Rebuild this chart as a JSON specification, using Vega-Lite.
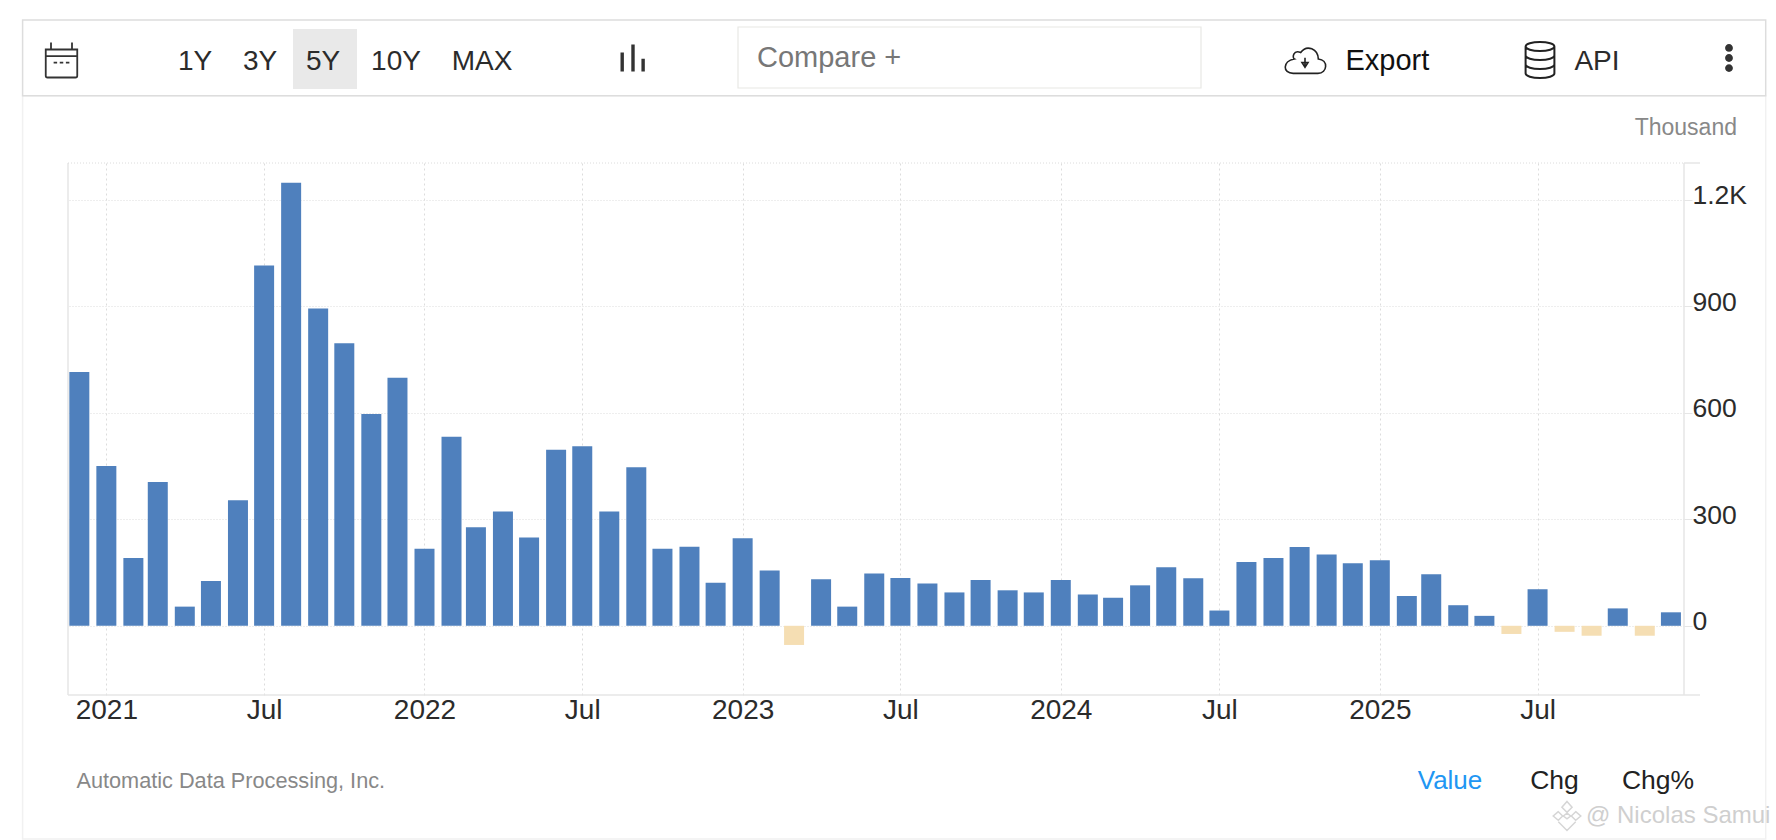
{
  "$schema": "https://vega.github.io/schema/vega-lite/v6.json",
  "width": 1616,
  "height": 532,
  "autosize": "none",
  "padding": {"left": 68, "top": 163, "right": 92, "bottom": 145},
  "background": "#ffffff",
  "config": {
    "view": {"stroke": null},
    "font": "Liberation Sans",
    "text": {"font": "Liberation Sans", "baseline": "middle"}
  },
  "layer": [
    {
      "data": {
        "values": [
          {"month": "2020-12-01", "value": 715},
          {"month": "2021-01-01", "value": 450},
          {"month": "2021-02-01", "value": 191},
          {"month": "2021-03-01", "value": 405},
          {"month": "2021-04-01", "value": 54},
          {"month": "2021-05-01", "value": 126},
          {"month": "2021-06-01", "value": 354},
          {"month": "2021-07-01", "value": 1015},
          {"month": "2021-08-01", "value": 1248},
          {"month": "2021-09-01", "value": 894},
          {"month": "2021-10-01", "value": 796},
          {"month": "2021-11-01", "value": 597},
          {"month": "2021-12-01", "value": 699},
          {"month": "2022-01-01", "value": 217},
          {"month": "2022-02-01", "value": 533},
          {"month": "2022-03-01", "value": 278},
          {"month": "2022-04-01", "value": 322},
          {"month": "2022-05-01", "value": 249},
          {"month": "2022-06-01", "value": 496},
          {"month": "2022-07-01", "value": 506},
          {"month": "2022-08-01", "value": 322},
          {"month": "2022-09-01", "value": 447},
          {"month": "2022-10-01", "value": 217},
          {"month": "2022-11-01", "value": 223},
          {"month": "2022-12-01", "value": 121},
          {"month": "2023-01-01", "value": 247},
          {"month": "2023-02-01", "value": 156},
          {"month": "2023-03-01", "value": -54},
          {"month": "2023-04-01", "value": 131},
          {"month": "2023-05-01", "value": 54},
          {"month": "2023-06-01", "value": 147},
          {"month": "2023-07-01", "value": 135},
          {"month": "2023-08-01", "value": 119},
          {"month": "2023-09-01", "value": 94},
          {"month": "2023-10-01", "value": 129},
          {"month": "2023-11-01", "value": 100},
          {"month": "2023-12-01", "value": 94},
          {"month": "2024-01-01", "value": 129},
          {"month": "2024-02-01", "value": 88},
          {"month": "2024-03-01", "value": 79},
          {"month": "2024-04-01", "value": 114},
          {"month": "2024-05-01", "value": 165},
          {"month": "2024-06-01", "value": 134},
          {"month": "2024-07-01", "value": 43},
          {"month": "2024-08-01", "value": 180},
          {"month": "2024-09-01", "value": 191},
          {"month": "2024-10-01", "value": 222},
          {"month": "2024-11-01", "value": 201},
          {"month": "2024-12-01", "value": 176},
          {"month": "2025-01-01", "value": 185},
          {"month": "2025-02-01", "value": 84},
          {"month": "2025-03-01", "value": 145},
          {"month": "2025-04-01", "value": 58},
          {"month": "2025-05-01", "value": 28},
          {"month": "2025-06-01", "value": -23},
          {"month": "2025-07-01", "value": 103},
          {"month": "2025-08-01", "value": -17},
          {"month": "2025-09-01", "value": -28},
          {"month": "2025-10-01", "value": 49},
          {"month": "2025-11-01", "value": -28},
          {"month": "2025-12-01", "value": 38}
        ]
      },
      "mark": {"type": "bar", "width": 20},
      "encoding": {
        "x": {
          "field": "month",
          "type": "temporal",
          "scale": {"type": "utc", "nice": false, "padding": 0, "domain": ["2020-11-18", "2025-12-16"]},
          "axis": {
            "title": null,
            "orient": "bottom",
            "values": ["2021-01-01", "2021-07-01", "2022-01-01", "2022-07-01", "2023-01-01", "2023-07-01", "2024-01-01", "2024-07-01", "2025-01-01", "2025-07-01"],
            "labelExpr": "utcFormat(datum.value, '%b') == 'Jan' ? utcFormat(datum.value, '%Y') : 'Jul'",
            "labelFont": "Liberation Sans",
            "labelFontSize": 28,
            "labelColor": "#2b2b2b",
            "labelPadding": 1,
            "labelOverlap": false,
            "labelFlush": false,
            "labelAngle": 0,
            "ticks": false,
            "domain": false,
            "grid": true,
            "gridColor": "#dcdcdc",
            "gridDash": [2, 3],
            "gridWidth": 1
          }
        },
        "y": {
          "field": "value",
          "type": "quantitative",
          "scale": {"domain": [-195, 1304], "nice": false, "zero": false},
          "axis": {
            "title": null,
            "orient": "right",
            "values": [0, 300, 600, 900, 1200],
            "labelExpr": "datum.value >= 1000 ? format(datum.value / 1000, '.1f') + 'K' : '' + datum.value",
            "labelFont": "Liberation Sans",
            "labelFontSize": 26.5,
            "labelColor": "#2b2b2b",
            "labelAlign": "left",
            "labelBaseline": "middle",
            "labelOffset": -4,
            "labelPadding": 0,
            "labelOverlap": false,
            "labelFlush": false,
            "tickColor": "#e6e6e6",
            "tickSize": 8,
            "domain": false,
            "grid": true,
            "gridColor": "#dcdcdc",
            "gridDash": [1, 2],
            "gridWidth": 1
          }
        },
        "color": {
          "condition": {"test": "datum.value < 0", "value": "#f5deb3"},
          "value": "#4f80bd"
        }
      }
    },
    {
      "encoding": {
        "x": {
          "field": "slot",
          "type": "quantitative",
          "axis": null,
          "scale": {
            "nice": false,
            "zero": false,
            "domain": [1, 2, 3, 4, 5, 6, 7, 8, 9, 10, 11, 12, 13, 14, 15, 16, 17, 18, 19, 20, 21, 22, 23, 24, 25, 26, 27, 28, 29],
            "range": [-45.4, -6.5, 0, 8.5, 127, 192, 225, 255, 289, 328, 414, 565, 670, 689, 1133, 1237, 1277.5, 1382, 1472, 1486.5, 1499, 1518, 1529, 1590, 1616, 1632, 1661, 1669, 1697.7]
          }
        },
        "y": {
          "field": "band",
          "type": "quantitative",
          "axis": null,
          "scale": {
            "nice": false,
            "zero": false,
            "domain": [1, 2, 3, 4, 5, 6, 7, 8, 9, 10, 11, 12, 13, 14],
            "range": [-143, -136, -134, -105, -103, -75, -74, -67.3, -35, 0, 532, 618, 653, 676]
          }
        }
      },
      "layer": [
        {
          "data": {"values": [{"slot": 1, "slotEnd": 29, "band": 8, "bandEnd": 14}]},
          "mark": {"type": "rect", "fill": null, "stroke": "#f1f1f1", "strokeWidth": 1.5},
          "encoding": {"x2": {"field": "slotEnd"}, "y2": {"field": "bandEnd"}}
        },
        {
          "data": {"values": [{"slot": 1, "slotEnd": 29, "band": 1, "bandEnd": 8}]},
          "mark": {"type": "rect", "fill": null, "stroke": "#dddddd", "strokeWidth": 1.5},
          "encoding": {"x2": {"field": "slotEnd"}, "y2": {"field": "bandEnd"}}
        },
        {
          "data": {"values": [{"slot": 7, "slotEnd": 9, "band": 3, "bandEnd": 7}]},
          "mark": {"type": "rect", "fill": "#e9e9e9"},
          "encoding": {"x2": {"field": "slotEnd"}, "y2": {"field": "bandEnd"}}
        },
        {
          "data": {"values": [{"slot": 13, "slotEnd": 15, "band": 2, "bandEnd": 6}]},
          "mark": {"type": "rect", "fill": null, "stroke": "#e8e8e4", "strokeWidth": 1.2},
          "encoding": {"x2": {"field": "slotEnd"}, "y2": {"field": "bandEnd"}}
        },
        {
          "data": {
            "values": [
              {"slot": 3, "slotEnd": 3, "band": 10, "bandEnd": 11},
              {"slot": 25, "slotEnd": 25, "band": 10, "bandEnd": 11},
              {"slot": 3, "slotEnd": 26, "band": 11, "bandEnd": 11},
              {"slot": 25, "slotEnd": 26, "band": 10, "bandEnd": 10}
            ]
          },
          "mark": {"type": "rule", "stroke": "#e6e6e6", "strokeWidth": 1.5},
          "encoding": {"x2": {"field": "slotEnd"}, "y2": {"field": "bandEnd"}}
        },
        {
          "data": {"values": [{"slot": 3, "slotEnd": 25, "band": 10, "bandEnd": 10}]},
          "mark": {"type": "rule", "stroke": "#dcdcdc", "strokeDash": [1, 2]},
          "encoding": {"x2": {"field": "slotEnd"}, "y2": {"field": "bandEnd"}}
        },
        {
          "data": {"values": [{"item": "calendar", "slot": 2, "band": 5}]},
          "mark": {
            "type": "point",
            "filled": false,
            "opacity": 1,
            "stroke": "#333333",
            "strokeWidth": 1.8,
            "size": 1225,
            "shape": "M-0.9,-0.6H0.9V0.9Q0.9,1 0.8,1H-0.8Q-0.9,1 -0.9,0.9Z M-0.9,-0.22H0.9 M-0.6,-1V-0.6 M0.6,-1V-0.6 M-0.45,0.15H-0.25 M-0.1,0.15H0.1 M0.25,0.15H0.45"
          }
        },
        {
          "data": {"values": [{"item": "bars", "slot": 12, "band": 4}]},
          "mark": {
            "type": "point",
            "filled": false,
            "opacity": 1,
            "stroke": "#333333",
            "strokeWidth": 3.4,
            "size": 729,
            "dx": 1,
            "shape": "M-0.8,-0.4V1 M0,-1V1 M0.75,0.05V1"
          }
        },
        {
          "data": {"values": [{"item": "cloud", "slot": 16, "band": 5}]},
          "mark": {
            "type": "point",
            "filled": false,
            "opacity": 1,
            "stroke": "#222222",
            "strokeWidth": 1.6,
            "size": 1849,
            "shape": "M-0.55,0.62H0.6C1.05,0.62 1.1,0 0.62,-0.05C0.6,-0.5 0.1,-0.75 -0.2,-0.35C-0.55,-0.5 -0.6,-0.1 -0.5,-0.05C-1.05,0.05 -1.05,0.62 -0.55,0.62Z M0,-0.1V0.32 M-0.14,0.12L0,0.34L0.14,0.12Z"
          }
        },
        {
          "data": {"values": [{"item": "database", "slot": 19, "band": 5}]},
          "mark": {
            "type": "point",
            "filled": false,
            "opacity": 1,
            "stroke": "#222222",
            "strokeWidth": 2,
            "size": 1296,
            "shape": "M-0.8,-0.75A0.8,0.25 0 1 0 0.8,-0.75A0.8,0.25 0 1 0 -0.8,-0.75Z M-0.8,-0.75V0.75A0.8,0.25 0 0 0 0.8,0.75V-0.75 M-0.8,-0.25A0.8,0.25 0 0 0 0.8,-0.25 M-0.8,0.25A0.8,0.25 0 0 0 0.8,0.25"
          }
        },
        {
          "data": {"values": [{"item": "menu", "slot": 27, "band": 4}]},
          "mark": {
            "type": "point",
            "filled": true,
            "opacity": 1,
            "fill": "#333333",
            "size": 784,
            "shape": "M-0.28,-0.72A0.28,0.28 0 1 0 0.28,-0.72A0.28,0.28 0 1 0 -0.28,-0.72Z M-0.28,0A0.28,0.28 0 1 0 0.28,0A0.28,0.28 0 1 0 -0.28,0Z M-0.28,0.72A0.28,0.28 0 1 0 0.28,0.72A0.28,0.28 0 1 0 -0.28,0.72Z"
          }
        },
        {
          "data": {"values": [{"item": "logo", "slot": 21, "band": 13}]},
          "mark": {
            "type": "point",
            "filled": false,
            "opacity": 1,
            "stroke": "#d6d6d6",
            "strokeWidth": 1.5,
            "size": 841,
            "shape": "M0,-1L0.35,-0.6L0,-0.25L-0.35,-0.6Z M-0.6,-0.3L-0.95,0L-0.6,0.3L-0.3,0Z M0.6,-0.3L0.95,0L0.6,0.3L0.3,0Z M-0.6,0.4L0,1L0.6,0.4 M0,-0.2L0.25,0L0,0.2L-0.25,0Z"
          }
        },
        {
          "data": {
            "values": [
              {"item": "1Y", "slot": 5, "band": 5},
              {"item": "3Y", "slot": 6, "band": 5},
              {"item": "5Y", "slot": 8, "band": 5},
              {"item": "10Y", "slot": 10, "band": 5},
              {"item": "MAX", "slot": 11, "band": 5},
              {"item": "API", "slot": 23, "band": 5}
            ]
          },
          "mark": {"type": "text", "fontSize": 28, "dy": 2, "color": "#2b2b2b"},
          "encoding": {"text": {"field": "item"}}
        },
        {
          "data": {"values": [{"item": "Export", "slot": 17, "band": 5}]},
          "mark": {"type": "text", "fontSize": 29, "dy": 1, "align": "left", "color": "#111111"},
          "encoding": {"text": {"field": "item"}}
        },
        {
          "data": {"values": [{"item": "Compare +", "slot": 14, "band": 4}]},
          "mark": {"type": "text", "fontSize": 29, "align": "left", "color": "#777777"},
          "encoding": {"text": {"field": "item"}}
        },
        {
          "data": {"values": [{"item": "Thousand", "slot": 28, "band": 9}]},
          "mark": {"type": "text", "fontSize": 23, "align": "right", "color": "#888888"},
          "encoding": {"text": {"field": "item"}}
        },
        {
          "data": {"values": [{"item": "Automatic Data Processing, Inc.", "slot": 4, "band": 12}]},
          "mark": {"type": "text", "fontSize": 21.7, "align": "left", "color": "#888888"},
          "encoding": {"text": {"field": "item"}}
        },
        {
          "data": {"values": [{"item": "Value", "slot": 18, "band": 12}]},
          "mark": {"type": "text", "fontSize": 26, "color": "#2196f3"},
          "encoding": {"text": {"field": "item"}}
        },
        {
          "data": {
            "values": [
              {"item": "Chg", "slot": 20, "band": 12},
              {"item": "Chg%", "slot": 24, "band": 12}
            ]
          },
          "mark": {"type": "text", "fontSize": 26.5, "color": "#222222"},
          "encoding": {"text": {"field": "item"}}
        },
        {
          "data": {"values": [{"item": "@ Nicolas Samui", "slot": 22, "band": 13}]},
          "mark": {"type": "text", "fontSize": 24, "align": "left", "color": "#cfcfcf"},
          "encoding": {"text": {"field": "item"}}
        }
      ]
    }
  ],
  "resolve": {
    "scale": {"x": "independent", "y": "independent"},
    "axis": {"x": "independent", "y": "independent"}
  }
}
